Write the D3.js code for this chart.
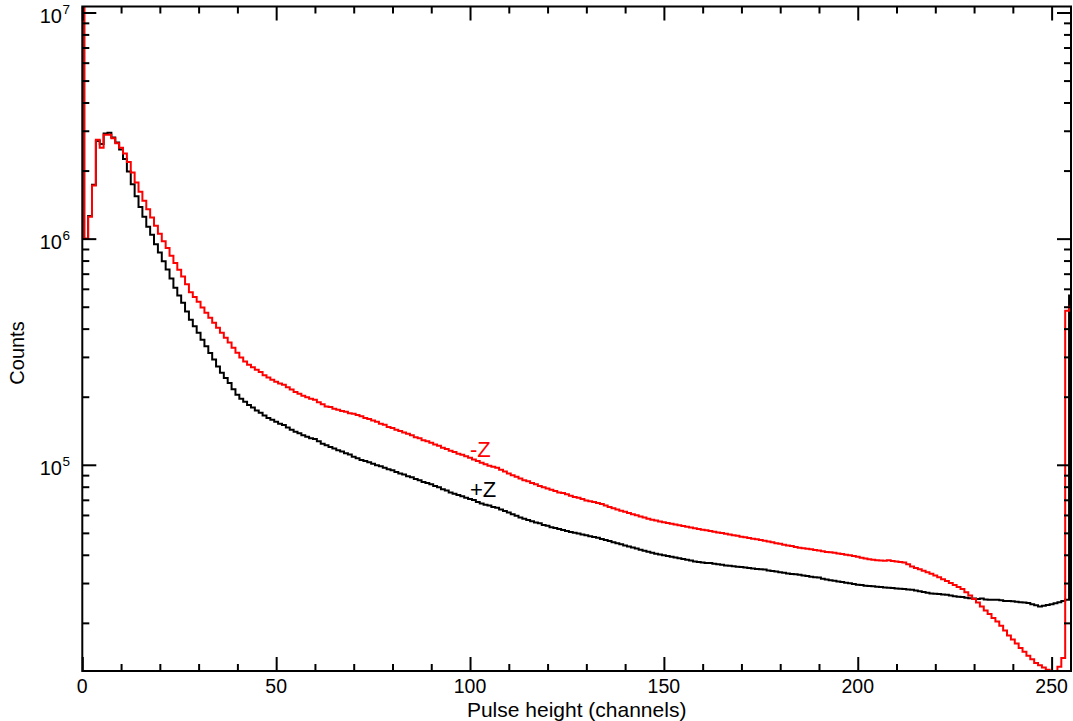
<!DOCTYPE html>
<html>
<head>
<meta charset="utf-8">
<script src="https://cdn.jsdelivr.net/npm/d3@7"></script>
<style>
  html, body { margin: 0; padding: 0; background: #fff; }
  svg { display: block; }
  text { font-family: "Liberation Sans", Arial, Helvetica, sans-serif; }
</style>
</head>
<body>
<svg id="chart" width="1073" height="721"></svg>
<script>
// ---------------- data ----------------
const channels = d3.range(0, 256);

// +Z spectrum (black)
const plusZ = [
  25000000, 1000000, 1260000, 1730000, 2700000, 2620000, 2920000, 2940000, 2800000, 2660000,
  2480000, 2250000, 1980000, 1740000, 1540000, 1380000, 1250000, 1130000, 1040000, 945000,
  868000, 795000, 730000, 666000, 607000, 560000, 520000, 476000, 438000, 410000,
  384000, 357000, 334000, 312000, 292000, 272000, 255000, 242000, 230000, 216000,
  204000, 196000, 190000, 184000, 179000, 174000, 170000, 165000, 161000, 158000,
  155000, 152000, 150000, 146000, 143000, 140000, 138000, 135000, 133000, 131000,
  130000, 127000, 124000, 122000, 120000, 118000, 116000, 114500, 112500, 111000,
  108500, 107000, 105000, 104000, 102500, 101000, 99500, 98500, 97000, 95500,
  94500, 93000, 91500, 90500, 89000, 88000, 86500, 85500, 84000, 83000,
  82000, 80500, 79500, 78000, 77000, 75500, 74500, 73500, 72500, 71500,
  70500, 69800, 68500, 67500, 66500, 66000, 65000, 64500, 63500, 62500,
  61500, 60500, 59500, 58500, 57800, 57000, 56300, 55500, 55200, 54200,
  53700, 53000, 52500, 52000, 51500, 51000, 50500, 50000, 49700, 49200,
  48800, 48300, 47900, 47600, 47000, 46500, 46000, 45500, 45000, 44500,
  44000, 43500, 43050, 42600, 42150, 41700, 41250, 40850, 40450, 40100,
  39800, 39500, 39200, 38900, 38600, 38300, 38000, 37700, 37400, 37200,
  37000, 36800, 36800, 36500, 36300, 36100, 35900, 35800, 35600, 35400,
  35300, 35100, 35000, 34800, 34600, 34500, 34400, 34100, 33900, 33700,
  33500, 33300, 33100, 32900, 32800, 32600, 32400, 32200, 32000, 31800,
  31700, 31300, 31100, 30900, 30700, 30500, 30300, 30100, 29900, 29700,
  29500, 29400, 29200, 29100, 29000, 28900, 28800, 28700, 28600, 28500,
  28400, 28300, 28200, 28100, 28000, 27800, 27600, 27400, 27200, 27000,
  26900, 26800, 26700, 26600, 26400, 26200, 26100, 26000, 25800, 25700,
  25600, 25500, 25600, 25400, 25300, 25300, 25300, 25200, 25000, 25000,
  24900, 24800, 24700, 24600, 24500, 24200, 23900, 23600, 23800, 24000,
  24200, 24400, 24700, 25000, 25300, 560000
];

// -Z spectrum (red)
const minusZ = [
  30000000, 1000000, 1250000, 1720000, 2740000, 2520000, 2880000, 2880000, 2780000, 2640000,
  2520000, 2380000, 2180000, 1960000, 1770000, 1610000, 1470000, 1350000, 1240000, 1140000,
  1050000, 975000, 910000, 840000, 780000, 728000, 680000, 628000, 580000, 552000,
  526000, 496000, 470000, 447000, 425000, 404000, 384000, 365000, 347000, 329000,
  313000, 298000, 286000, 277000, 270000, 263000, 257000, 249000, 243000, 238000,
  233000, 229000, 226000, 220000, 215000, 210000, 206000, 202000, 199000, 196000,
  194000, 189000, 185000, 181000, 180000, 177000, 175000, 173000, 171500, 169000,
  168000, 166000, 164000, 161000, 159500, 157000, 155000, 152000, 150500, 147000,
  145500, 143000, 141000, 139000, 137000, 135000, 132500, 131000, 128500, 127000,
  125000, 123000, 121500, 119000, 117500, 115500, 114000, 112000, 110700, 109000,
  107500, 105500, 104000, 102000, 100500, 99000, 98000, 97000, 95000, 93500,
  91500, 90000, 88500, 87000, 85500, 84500, 83000, 82000, 80500, 79500,
  78500, 77500, 76500, 75500, 75000, 74000, 73000, 72000, 71500, 70500,
  69500, 69000, 68500, 67800, 67000, 66000, 65000, 64300, 63500, 62700,
  62000, 61200, 60500, 59800, 59100, 58400, 57800, 57200, 56700, 56200,
  55700, 55300, 54800, 54400, 54000, 53600, 53200, 52800, 52400, 52000,
  51600, 51300, 51000, 50600, 50200, 49900, 49500, 49200, 48800, 48500,
  48100, 47800, 47500, 47100, 46800, 46500, 46200, 45800, 45500, 45000,
  44700, 44300, 44000, 43700, 43300, 43000, 42800, 42500, 42300, 42000,
  41800, 41500, 41200, 41000, 40800, 40500, 40300, 40000, 39800, 39500,
  39200, 38800, 38500, 38200, 38000, 37800, 37700, 37600, 37800, 37500,
  37400, 37200, 37000, 36300, 35500, 35000, 34500, 34000, 33500, 33000,
  32400, 31800, 31200, 30600, 30000, 29400, 28800, 28200, 27300, 26400,
  25500, 24600, 23600, 22700, 21900, 21000, 20300, 19400, 18500, 17600,
  16900, 16200, 15500, 14900, 14300, 13800, 13300, 13000, 12700, 12400,
  12250, 12250, 12800, 14000, 480000, 500000
];

const xMajorTicks = [0, 50, 100, 150, 200, 250];
const xMinorTicks = [10, 20, 30, 40, 60, 70, 80, 90, 110, 120, 130, 140, 160, 170, 180, 190, 210, 220, 230, 240];
const yMajorTicks = [1e5, 1e6, 1e7];
const yMajorExp = ["5", "6", "7"];
const yMinorTicks = [2e4, 3e4, 4e4, 5e4, 6e4, 7e4, 8e4, 9e4,
                     2e5, 3e5, 4e5, 5e5, 6e5, 7e5, 8e5, 9e5,
                     2e6, 3e6, 4e6, 5e6, 6e6, 7e6, 8e6, 9e6];
const xLabel = "Pulse height (channels)";
const yLabel = "Counts";
const seriesLabels = [
  { text: "-Z", color: "#ff0000", ch: 100, val: 1.086e5 },
  { text: "+Z", color: "#000000", ch: 100, val: 7.17e4 }
];

// ---------------- layout ----------------
const L = 82.3, R = 1071, T = 6.5, B = 671;
const svg = d3.select("#chart");
svg.append("rect").attr("width", 1073).attr("height", 721).attr("fill", "#fff");

const x = d3.scaleLinear().domain([0, 255]).range([L, R]);
const y = d3.scaleLog().domain([12250, 1.063e7]).range([B, T]);

svg.append("defs").append("clipPath").attr("id", "clip")
  .append("rect").attr("x", L).attr("y", T).attr("width", R - L).attr("height", B - T);

const line = d3.line()
  .x((d, i) => x(channels[i]))
  .y(d => y(d))
  .curve(d3.curveStep);

const g = svg.append("g").attr("clip-path", "url(#clip)");
g.append("path").datum(plusZ).attr("d", line)
  .attr("fill", "none").attr("stroke", "#000").attr("stroke-width", 2)
  .attr("stroke-linejoin", "miter");
g.append("path").datum(minusZ).attr("d", line)
  .attr("fill", "none").attr("stroke", "#ff0000").attr("stroke-width", 2)
  .attr("stroke-linejoin", "miter");

// ---------------- axes (ticks inward on all four sides) ----------------
const MAJ = 14, MIN = 7;
function styleAxis(sel) {
  sel.select(".domain").remove();
  sel.selectAll(".tick line").attr("stroke", "#000").attr("stroke-width", 2);
  sel.selectAll(".tick text").remove();
}
svg.append("g").attr("transform", `translate(0,${B})`)
  .call(d3.axisBottom(x).tickValues(xMajorTicks).tickSize(-MAJ).tickSizeOuter(0)).call(styleAxis);
svg.append("g").attr("transform", `translate(0,${B})`)
  .call(d3.axisBottom(x).tickValues(xMinorTicks).tickSize(-MIN).tickSizeOuter(0)).call(styleAxis);
svg.append("g").attr("transform", `translate(0,${T})`)
  .call(d3.axisTop(x).tickValues(xMajorTicks).tickSize(-MAJ).tickSizeOuter(0)).call(styleAxis);
svg.append("g").attr("transform", `translate(0,${T})`)
  .call(d3.axisTop(x).tickValues(xMinorTicks).tickSize(-MIN).tickSizeOuter(0)).call(styleAxis);
svg.append("g").attr("transform", `translate(${L},0)`)
  .call(d3.axisLeft(y).tickValues(yMajorTicks).tickSize(-MAJ).tickSizeOuter(0)).call(styleAxis);
svg.append("g").attr("transform", `translate(${L},0)`)
  .call(d3.axisLeft(y).tickValues(yMinorTicks).tickSize(-MIN).tickSizeOuter(0)).call(styleAxis);
svg.append("g").attr("transform", `translate(${R},0)`)
  .call(d3.axisRight(y).tickValues(yMajorTicks).tickSize(-MAJ).tickSizeOuter(0)).call(styleAxis);
svg.append("g").attr("transform", `translate(${R},0)`)
  .call(d3.axisRight(y).tickValues(yMinorTicks).tickSize(-MIN).tickSizeOuter(0)).call(styleAxis);

// frame
svg.append("rect").attr("x", L).attr("y", T).attr("width", R - L).attr("height", B - T)
  .attr("fill", "none").attr("stroke", "#000").attr("stroke-width", 2);

// x tick labels
svg.append("g").selectAll("text").data(xMajorTicks).join("text")
  .attr("x", d => x(d)).attr("y", B + 22)
  .attr("text-anchor", "middle").attr("font-size", 19.5).attr("fill", "#000")
  .text(d => d);

// y tick labels: 10^n
svg.append("g").selectAll("text").data(yMajorTicks).join("text")
  .attr("x", 62).attr("y", d => y(d) + 10.5)
  .attr("text-anchor", "end").attr("font-size", 20).attr("fill", "#000")
  .text("10");
svg.append("g").selectAll("text").data(yMajorTicks).join("text")
  .attr("x", 62.5).attr("y", d => y(d) + 1.5)
  .attr("text-anchor", "start").attr("font-size", 13.5).attr("fill", "#000")
  .text((d, i) => yMajorExp[i]);

// axis titles
svg.append("text").attr("x", (L + R) / 2).attr("y", 716.5)
  .attr("text-anchor", "middle").attr("font-size", 21).attr("fill", "#000")
  .text(xLabel);
svg.append("text").attr("transform", `translate(24,353) rotate(-90)`)
  .attr("text-anchor", "middle").attr("font-size", 20).attr("fill", "#000")
  .text(yLabel);

// series labels
svg.append("g").selectAll("text").data(seriesLabels).join("text")
  .attr("x", d => x(d.ch)).attr("y", d => y(d.val))
  .attr("font-size", 22).attr("fill", d => d.color)
  .text(d => d.text);
</script>
</body>
</html>
